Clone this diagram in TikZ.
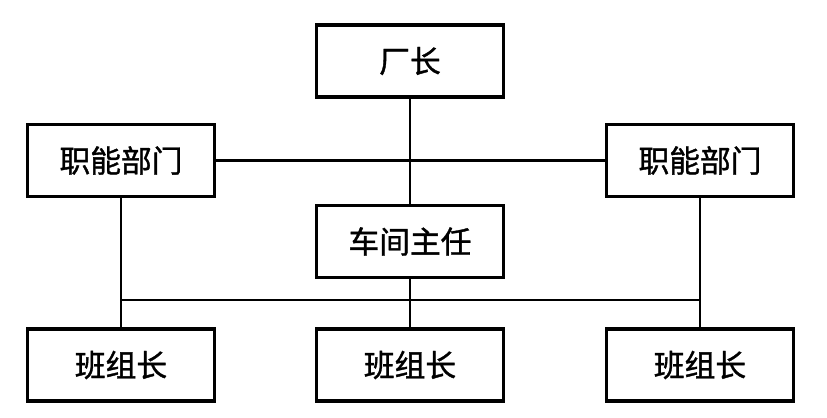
\documentclass[tikz,border=0pt]{standalone}
\usepackage{fontspec}
\newfontfamily\cjk[FakeBold=1.2]{Noto Sans CJK SC}
\usetikzlibrary{positioning}

\tikzset{
  unit/.style={draw, line width=2pt, minimum width=3.74cm, minimum height=1.44cm,
    font=\cjk\fontsize{17.5}{20}\selectfont},
  link/.style={line width=1.6pt}
}

\begin{document}
\begin{tikzpicture}[x=0.02cm,y=-0.02cm]
  \useasboundingbox (0,0) rectangle (827,418);
  % top
  \node[unit] (chang) at (410,61) {厂长};
  % functional departments
  \node[unit] (zhiL) at (121,160.5) {职能部门};
  \node[unit] (zhiR) at (700,160.5) {职能部门};
  % workshop
  \node[unit] (chejian) at (410,241.5) {车间主任};
  % team leaders
  \node[unit] (banL) at (121,365) {班组长};
  \node[unit] (banM) at (410,365) {班组长};
  \node[unit] (banR) at (700,365) {班组长};
  % links
  \draw[link] (chang) -- (chejian);
  \draw[link] (zhiL) -- (zhiR);
  \draw[link] (zhiL) -- (banL);
  \draw[link] (zhiR) -- (banR);
  \draw[link] (chejian) -- (banM);
  \coordinate (busL) at (zhiL.south |- 0,300);
  \coordinate (busR) at (zhiR.south |- 0,300);
  \draw[link] (busL) -- (busR);
\end{tikzpicture}
\end{document}
